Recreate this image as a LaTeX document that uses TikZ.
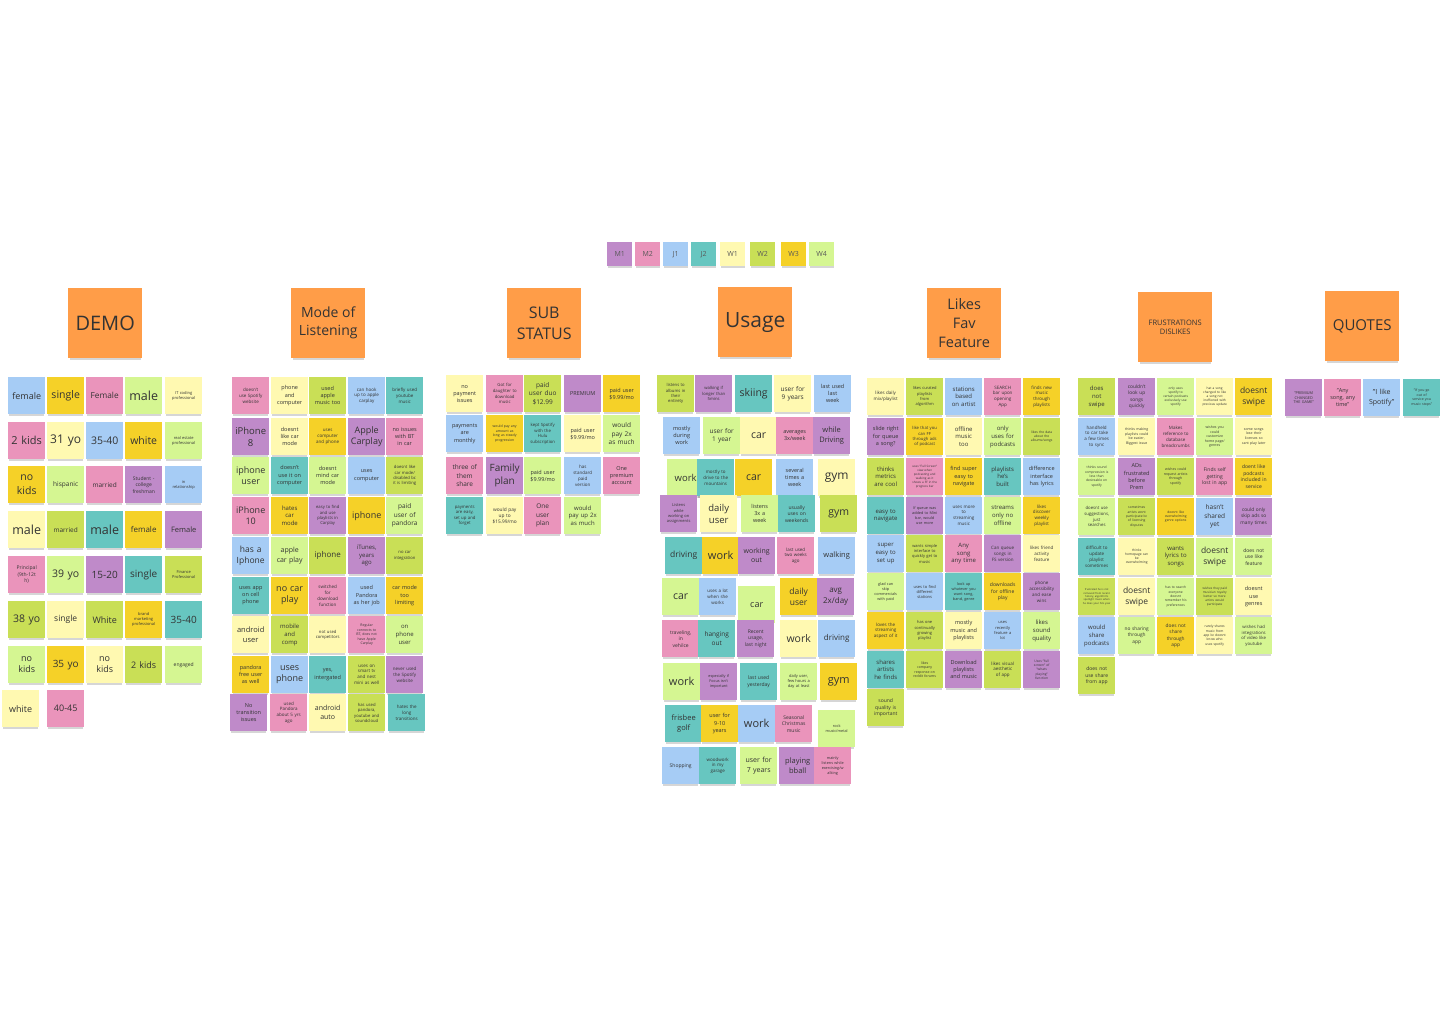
\documentclass[tikz,border=0pt]{standalone}
\usepackage{fontspec}
\setmainfont{Open Sans}
\usetikzlibrary{shadows}
\definecolor{lb}{HTML}{A6CCF5}
\definecolor{yl}{HTML}{F5D128}
\definecolor{pk}{HTML}{EA94BB}
\definecolor{lg}{HTML}{D5F692}
\definecolor{ly}{HTML}{FFF9B1}
\definecolor{gr}{HTML}{C9DF56}
\definecolor{tl}{HTML}{67C6C0}
\definecolor{vi}{HTML}{BF8AC9}
\definecolor{orn}{HTML}{FF9D48}
\definecolor{txt}{HTML}{333333}
\newcommand\fz[1]{\fontsize{#1}{\the\dimexpr #1pt*13/10\relax}\selectfont}
\newcommand\sn[6]{\node[note,fill=#4,font=\fz{#5}] (#1) at (#2,#3) {#6};}
\tikzset{
  note/.style={rectangle,anchor=north west,minimum width=37pt,minimum height=37pt,
    text width=36pt,inner sep=0.5pt,align=center,text=txt,
    drop shadow={shadow xshift=0pt,shadow yshift=-2.5pt,shadow scale=0.96,opacity=0.16,fill=black}},
  hdr/.style={rectangle,anchor=north west,minimum width=74pt,minimum height=70pt,
    inner sep=1pt,align=center,text=txt,fill=orn,
    drop shadow={shadow xshift=0pt,shadow yshift=-3pt,shadow scale=0.96,opacity=0.16,fill=black}},
  legbox/.style={rectangle,anchor=north west,minimum width=25pt,minimum height=24pt,
    inner sep=0pt,text=black!65,font=\fz{7},
    drop shadow={shadow xshift=0pt,shadow yshift=-2pt,shadow scale=0.95,opacity=0.16,fill=black}}
}
\begin{document}
\begin{tikzpicture}[x=1pt,y=-1pt]
\fill[white] (0,0) rectangle (1440,1024);
\useasboundingbox (0,0) rectangle (1440,1024);
% legend
\node[legbox,fill=vi] (leg1) at (607,242) {M1};
\node[legbox,fill=pk] (leg2) at (635,242) {M2};
\node[legbox,fill=lb] (leg3) at (663,242) {J1};
\node[legbox,fill=tl] (leg4) at (691,242) {J2};
\node[legbox,fill=ly] (leg5) at (720,242) {W1};
\node[legbox,fill=gr] (leg6) at (750,242) {W2};
\node[legbox,fill=yl] (leg7) at (781,242) {W3};
\node[legbox,fill=lg] (leg8) at (809,242) {W4};
% headers
\node[hdr,font=\fz{20}] (hdemo) at (68,288) {DEMO};
\node[hdr,font=\fz{14}] (hmode) at (291,288) {Mode of\\Listening};
\node[hdr,font=\fz{16}] (hsub) at (507,288) {SUB\\STATUS};
\node[hdr,font=\fz{21}] (husage) at (718,287) {Usage};
\node[hdr,font=\fz{14.5}] (hlikes) at (927,288) {Likes\\Fav\\Feature};
\node[hdr,font=\fz{7.5}] (hfrust) at (1138,292) {FRUSTRATIONS\\DISLIKES};
\node[hdr,font=\fz{15}] (hquotes) at (1325,291) {QUOTES};
% DEMO
\sn{d11}{8}{377}{lb}{9}{female}
\sn{d12}{47}{377}{yl}{10.5}{single}
\sn{d13}{86}{377}{pk}{8.3}{Female}
\sn{d14}{125}{377}{lg}{12.5}{male}
\sn{d15}{165}{377}{ly}{4}{IT coding\\professional}
\sn{d21}{8}{422}{pk}{11}{2 kids}
\sn{d22}{47}{422}{ly}{12}{31 yo}
\sn{d23}{86}{422}{lb}{10.5}{35-40}
\sn{d24}{125}{422}{yl}{10.5}{white}
\sn{d25}{165}{422}{lg}{4}{real estate\\professional}
\sn{d31}{8}{466}{yl}{10.5}{no\\kids}
\sn{d32}{47}{466}{lg}{6.5}{hispanic}
\sn{d33}{86}{466}{pk}{6.5}{married}
\sn{d34}{125}{466}{vi}{5}{Student -\\college\\freshman}
\sn{d35}{165}{466}{lb}{4}{in\\relationship}
\sn{d41}{8}{511}{ly}{12.5}{male}
\sn{d42}{47}{511}{gr}{6.5}{married}
\sn{d43}{86}{511}{tl}{12.5}{male}
\sn{d44}{125}{511}{yl}{8}{female}
\sn{d45}{165}{511}{vi}{7.5}{Female}
\sn{d51}{8}{556}{pk}{5}{Principal\\(9th-12t\\h)}
\sn{d52}{47}{556}{lg}{10.5}{39 yo}
\sn{d53}{86}{556}{vi}{10}{15-20}
\sn{d54}{125}{556}{tl}{10}{single}
\sn{d55}{165}{556}{gr}{4}{Finance\\Professional}
\sn{d61}{8}{601}{gr}{10.5}{38 yo}
\sn{d62}{47}{601}{ly}{8.5}{single}
\sn{d63}{86}{601}{gr}{9}{White}
\sn{d64}{125}{601}{yl}{4}{brand\\marketing\\professional}
\sn{d65}{165}{601}{tl}{10}{35-40}
\sn{d71}{8}{646}{lg}{9}{no\\kids}
\sn{d72}{47}{646}{yl}{10}{35 yo}
\sn{d73}{86}{646}{ly}{9}{no\\kids}
\sn{d74}{125}{646}{gr}{9}{2 kids}
\sn{d75}{165}{646}{lg}{5}{engaged}
\sn{d81}{2}{690}{ly}{9}{white}
\sn{d82}{47}{690}{pk}{9}{40-45}
% MODE OF LISTENING
\sn{m11}{232}{377}{pk}{4.5}{doesn't\\use Spotify\\website}
\sn{m12}{271}{377}{ly}{5.5}{phone\\and\\computer}
\sn{m13}{309}{377}{gr}{5.5}{used\\apple\\music too}
\sn{m14}{348}{377}{lb}{4.5}{can hook\\up to apple\\carplay}
\sn{m15}{386}{377}{tl}{4.5}{briefly used\\youtube\\music}
\sn{m21}{232}{418}{vi}{9.5}{iPhone\\8}
\sn{m22}{271}{418}{ly}{5.5}{doesnt\\like car\\mode}
\sn{m23}{309}{418}{yl}{4.5}{uses\\computer\\and phone}
\sn{m24}{348}{418}{vi}{9}{Apple\\Carplay}
\sn{m25}{386}{418}{pk}{5.5}{no issues\\with BT\\in car}
\sn{m31}{232}{457}{lg}{9}{iphone\\user}
\sn{m32}{271}{457}{tl}{5.5}{doesn't\\use it on\\computer}
\sn{m33}{309}{457}{lg}{5.5}{doesnt\\mind car\\mode}
\sn{m34}{348}{457}{lb}{5.5}{uses\\computer}
\sn{m35}{386}{457}{gr}{4.2}{doesnt like\\car mode/\\disabled bc\\it is limiting}
\sn{m41}{232}{497}{pk}{9}{iPhone\\10}
\sn{m42}{271}{497}{yl}{6}{hates\\car\\mode}
\sn{m43}{309}{497}{vi}{4.2}{easy to find\\and use\\playlists in\\Carplay}
\sn{m44}{348}{497}{yl}{9}{iphone}
\sn{m45}{386}{497}{lg}{6.5}{paid\\user of\\pandora}
\sn{m51}{232}{537}{lb}{8.5}{has a\\Iphone}
\sn{m52}{271}{537}{lg}{7}{apple\\car play}
\sn{m53}{309}{537}{gr}{8}{iphone}
\sn{m54}{348}{537}{vi}{6}{iTunes,\\years\\ago}
\sn{m55}{386}{537}{gr}{4.2}{no car\\integration}
\sn{m61}{232}{577}{tl}{5.5}{uses app\\on cell\\phone}
\sn{m62}{271}{577}{yl}{9}{no car\\play}
\sn{m63}{309}{577}{pk}{4.5}{switched\\for\\download\\function}
\sn{m64}{348}{577}{lb}{5.5}{used\\Pandora\\as her job}
\sn{m65}{386}{577}{yl}{5.5}{car mode\\too\\limiting}
\sn{m71}{232}{616}{ly}{7.5}{android\\user}
\sn{m72}{271}{616}{gr}{6}{mobile\\and\\comp}
\sn{m73}{309}{616}{ly}{4.2}{not used\\competitors}
\sn{m74}{348}{616}{pk}{3.5}{Regular\\connects to\\BT, does not\\have Apple\\Carplay}
\sn{m75}{386}{616}{lg}{6}{on\\phone\\user}
\sn{m81}{232}{656}{yl}{5.5}{pandora\\free user\\as well}
\sn{m82}{271}{656}{lb}{9}{uses\\phone}
\sn{m83}{309}{656}{tl}{5.5}{yes,\\intergated}
\sn{m84}{348}{656}{gr}{4.5}{uses on\\smart tv\\and nest\\mini as well}
\sn{m85}{386}{656}{vi}{4.5}{never used\\the Spotify\\website}
\sn{m91}{230}{694}{vi}{5.5}{No\\transition\\issues}
\sn{m92}{270}{694}{pk}{4.5}{used\\Pandora\\about 5 yrs\\ago}
\sn{m93}{309}{694}{ly}{7}{android\\auto}
\sn{m94}{348}{694}{gr}{4.2}{has used\\pandora,\\youtube and\\soundcloud}
\sn{m95}{388}{694}{tl}{4.5}{hates the\\long\\transitions}
% SUB STATUS
\sn{s11}{446}{375}{ly}{5.5}{no\\payment\\issues}
\sn{s12}{486}{375}{pk}{4.3}{Got for\\daughter to\\download\\music}
\sn{s13}{524}{375}{gr}{6.5}{paid\\user duo\\\$12.99}
\sn{s14}{564}{375}{vi}{5.5}{PREMIUM}
\sn{s15}{603}{375}{yl}{5.5}{paid user\\\$9.99/mo}
\sn{s21}{446}{415}{lb}{5.5}{payments\\are\\monthly}
\sn{s22}{486}{415}{yl}{3.5}{would pay any\\amount as\\long as steady\\progression}
\sn{s23}{524}{415}{tl}{4.3}{kept Spotify\\with the\\Hulu\\subscription}
\sn{s24}{564}{415}{ly}{5.5}{paid user\\\$9.99/mo}
\sn{s25}{603}{415}{lg}{6.5}{would\\pay 2x\\as much}
\sn{s31}{446}{457}{pk}{6.5}{three of\\them\\share}
\sn{s32}{486}{457}{vi}{10}{Family\\plan}
\sn{s33}{524}{457}{lg}{5.5}{paid user\\\$9.99/mo}
\sn{s34}{564}{457}{lb}{4.5}{has\\standard\\paid\\version}
\sn{s35}{603}{457}{pk}{5.5}{One\\premium\\account}
\sn{s41}{446}{497}{tl}{4.3}{payments\\are easy,\\set up and\\forget}
\sn{s42}{486}{497}{ly}{4.8}{would pay\\up to\\\$15.99/mo}
\sn{s43}{524}{497}{pk}{6.5}{One\\user\\plan}
\sn{s44}{564}{497}{lg}{6}{would\\pay up 2x\\as much}
% USAGE
\sn{u11}{657}{375}{gr}{4.2}{listens to\\albums in\\their\\entirety}
\sn{u12}{695}{375}{vi}{4.2}{walking if\\longer than\\5mins}
\sn{u13}{735}{375}{tl}{10.5}{skiing}
\sn{u14}{774}{375}{ly}{6.5}{user for\\9 years}
\sn{u15}{814}{375}{lb}{5.5}{last used\\last\\week}
\sn{u21}{663}{417}{lb}{5.5}{mostly\\during\\work}
\sn{u22}{703}{417}{lg}{6.5}{user for\\1 year}
\sn{u23}{740}{417}{ly}{10.5}{car}
\sn{u24}{776}{417}{pk}{5.5}{averages\\3x/week}
\sn{u25}{813}{417}{vi}{7.5}{while\\Driving}
\sn{u31}{667}{459}{lg}{9.5}{work}
\sn{u32}{697}{459}{tl}{4.5}{mostly to\\drive to the\\mountains}
\sn{u33}{735}{459}{yl}{10.5}{car}
\sn{u34}{776}{459}{lb}{5.5}{several\\times a\\week}
\sn{u35}{818}{459}{ly}{12}{gym}
\sn{u41}{660}{495}{vi}{4}{Listens\\while\\working on\\assignments}
\sn{u42}{700}{495}{ly}{9.5}{daily\\user}
\sn{u43}{741}{495}{lg}{5.5}{listens\\3x a\\week}
\sn{u44}{778}{495}{tl}{5}{usually\\uses on\\weekends}
\sn{u45}{820}{495}{gr}{10.5}{gym}
\sn{u51}{665}{537}{tl}{8.5}{driving}
\sn{u52}{702}{537}{yl}{11}{work}
\sn{u53}{738}{537}{vi}{7}{working\\out}
\sn{u54}{777}{537}{pk}{4.5}{last used\\two weeks\\ago}
\sn{u55}{818}{537}{lb}{7.5}{walking}
\sn{u61}{662}{578}{lg}{10.5}{car}
\sn{u62}{699}{578}{lb}{4.5}{uses a lot\\when she\\works}
\sn{u63}{738}{586}{lg}{9}{car}
\sn{u64}{780}{578}{yl}{8.5}{daily\\user}
\sn{u65}{817}{578}{vi}{8}{avg\\2x/day}
\sn{u71}{662}{620}{pk}{5}{traveling,\\in\\vehilce}
\sn{u72}{698}{620}{tl}{6.5}{hanging\\out}
\sn{u73}{737}{620}{vi}{5}{Recent\\usage,\\last night}
\sn{u74}{780}{620}{ly}{10.5}{work}
\sn{u75}{818}{620}{lb}{8}{driving}
\sn{u81}{663}{663}{lg}{11}{work}
\sn{u82}{700}{663}{vi}{3.8}{especially if\\Focus isn't\\important}
\sn{u83}{740}{663}{tl}{5}{last used\\yesterday}
\sn{u84}{780}{663}{lg}{4}{daily user,\\few hours a\\day at least}
\sn{u85}{820}{663}{yl}{11}{gym}
\sn{u91}{665}{705}{tl}{7.5}{frisbee\\golf}
\sn{u92}{701}{705}{yl}{5.5}{user for\\9-10\\years}
\sn{u93}{738}{705}{lb}{11}{work}
\sn{u94}{775}{705}{pk}{5}{Seasonal\\Christmas\\music}
\sn{u95}{818}{710}{lg}{3.8}{rock\\music/metal}
\sn{ua1}{662}{747}{lb}{5}{Shopping}
\sn{ua2}{699}{747}{tl}{4.5}{woodwork\\in my\\garage}
\sn{ua3}{740}{747}{lg}{7}{user for\\7 years}
\sn{ua4}{779}{747}{vi}{7.5}{playing\\bball}
\sn{ua5}{814}{747}{pk}{3.8}{mainly\\listens while\\exercising/w\\alking}
% LIKES
\sn{l11}{867}{378}{ly}{4.5}{likes daily\\mix/playlist}
\sn{l12}{906}{378}{gr}{4}{likes curated\\playlists\\from\\algorithm}
\sn{l13}{945}{378}{lb}{6}{stations\\based\\on artist}
\sn{l14}{984}{378}{pk}{4.5}{SEARCH\\bar upon\\opening\\App}
\sn{l15}{1023}{378}{yl}{4.5}{finds new\\music\\through\\playlists}
\sn{l21}{867}{418}{vi}{5.5}{slide right\\for queue\\a song?}
\sn{l22}{906}{418}{yl}{4.2}{like that you\\can FF\\through ads\\of podcast}
\sn{l23}{945}{418}{ly}{6}{offline\\music\\too}
\sn{l24}{984}{418}{lg}{6}{only\\uses for\\podcasts}
\sn{l25}{1023}{418}{gr}{3.3}{likes the data\\about the\\albums/songs}
\sn{l31}{867}{458}{gr}{6}{thinks\\metrics\\are cool}
\sn{l32}{906}{458}{pk}{3}{uses "Full Screen"\\view when\\podcasting and\\walking as it\\shows a FF in the\\progress bar}
\sn{l33}{945}{458}{yl}{5.5}{find super\\easy to\\navigate}
\sn{l34}{984}{458}{tl}{6}{playlists\\he's\\built}
\sn{l35}{1023}{458}{lb}{5.5}{difference\\interface\\has lyrics}
\sn{l41}{867}{497}{tl}{6}{easy to\\navigate}
\sn{l42}{906}{497}{vi}{3.8}{If queue was\\added to Mini\\bar, would\\use more}
\sn{l43}{945}{497}{lb}{4.5}{uses more\\to\\streaming\\music}
\sn{l44}{984}{497}{lg}{6}{streams\\only no\\offline}
\sn{l45}{1023}{497}{yl}{4.5}{likes\\discover\\weekly\\playlist}
\sn{l51}{867}{535}{lb}{6}{super\\easy to\\set up}
\sn{l52}{906}{535}{gr}{4}{wants simple\\interface to\\quickly get to\\music}
\sn{l53}{945}{535}{pk}{6}{Any\\song\\any time}
\sn{l54}{984}{535}{vi}{4.5}{Can queue\\songs in\\FS version}
\sn{l55}{1023}{535}{ly}{4.5}{likes friend\\activity\\feature}
\sn{l61}{867}{573}{lg}{3.8}{glad can\\skip\\commercials\\with paid}
\sn{l62}{906}{573}{lb}{4}{uses to find\\different\\stations}
\sn{l63}{945}{573}{tl}{3.8}{look up\\whatever you\\want song,\\band, genre}
\sn{l64}{984}{573}{yl}{5}{downloads\\for offline\\play}
\sn{l65}{1023}{573}{vi}{4.5}{phone\\accessibility\\and ease\\wins}
\sn{l71}{867}{612}{yl}{4.5}{loves the\\streaming\\aspect of it}
\sn{l72}{906}{612}{gr}{4}{has one\\continually\\growing\\playlist}
\sn{l73}{945}{612}{ly}{5.5}{mostly\\music and\\playlists}
\sn{l74}{984}{612}{lb}{4}{uses\\recently\\feature a\\lot}
\sn{l75}{1023}{612}{lg}{6}{likes\\sound\\quality}
\sn{l81}{867}{651}{tl}{6}{shares\\artists\\he finds}
\sn{l82}{906}{651}{gr}{3.5}{likes\\company\\response on\\reddit forums}
\sn{l83}{945}{651}{vi}{5.5}{Download\\playlists\\and music}
\sn{l84}{984}{651}{gr}{4.5}{likes visual\\aesthetic\\of app}
\sn{l85}{1023}{651}{vi}{3.3}{Uses "full\\screen" of\\"whats\\playing"\\function}
\sn{l91}{867}{689}{gr}{5}{sound\\quality is\\important}
% FRUSTRATIONS
\sn{f11}{1078}{378}{gr}{6}{does\\not\\swipe}
\sn{f12}{1118}{378}{vi}{4.8}{couldn't\\look up\\songs\\quickly}
\sn{f13}{1157}{378}{lg}{3.2}{only uses\\spotify to\\certain podcasts\\exclusively use\\spotify}
\sn{f14}{1196}{378}{ly}{3.2}{hat a song\\changed to like\\a song not\\ineffected with\\previous update}
\sn{f15}{1235}{378}{yl}{8.5}{doesnt\\swipe}
\sn{f21}{1078}{418}{lb}{4.5}{handheld\\to car take\\a few times\\to sync}
\sn{f22}{1118}{418}{ly}{3.5}{thinks making\\playlists could\\be easier,\\Biggest issue}
\sn{f23}{1157}{418}{pk}{4.5}{Makes\\reference to\\database\\breadcrumbs}
\sn{f24}{1196}{418}{lg}{3.5}{wishes you\\could\\customize\\home page/\\genres}
\sn{f25}{1235}{418}{ly}{3.5}{some songs\\lose their\\licenses so\\cant play later}
\sn{f31}{1078}{458}{lg}{3.3}{thinks sound\\compression is\\less than\\desireable on\\spotify}
\sn{f32}{1118}{458}{vi}{5.5}{ADs\\frustrated\\before\\Prem}
\sn{f33}{1157}{458}{gr}{3.5}{wishes could\\request artists\\through\\spotify}
\sn{f34}{1196}{458}{pk}{5}{Finds self\\getting\\lost in app}
\sn{f35}{1235}{458}{yl}{5}{doent like\\podcasts\\included in\\service}
\sn{f41}{1078}{498}{lg}{4.3}{doesnt use\\suggestions,\\just\\searches}
\sn{f42}{1118}{498}{gr}{3.3}{sometimes\\artists wont\\participate bc\\of licensing\\disputes}
\sn{f43}{1157}{498}{yl}{3.3}{doesnt like\\overwhelming\\genre options}
\sn{f44}{1196}{498}{lb}{6.5}{hasn't\\shared\\yet}
\sn{f45}{1235}{498}{vi}{4.8}{could only\\skip ads so\\many times}
\sn{f51}{1078}{538}{tl}{4.5}{difficult to\\update\\playlist\\sometimes}
\sn{f52}{1118}{538}{ly}{3.3}{thinks\\homepage can\\be\\overwhelming}
\sn{f53}{1157}{538}{gr}{6}{wants\\lyrics to\\songs}
\sn{f54}{1196}{538}{lg}{8.5}{doesnt\\swipe}
\sn{f55}{1235}{538}{lg}{5}{does not\\use like\\feature}
\sn{f61}{1078}{578}{gr}{2.6}{frustrated he is not\\removed from recent\\history, algorithm's\\spotlight music when\\he does your hits year}
\sn{f62}{1118}{578}{ly}{8.5}{doesnt\\swipe}
\sn{f63}{1157}{578}{lg}{3.3}{has to search\\everyone\\doesnt\\remember his\\preferences}
\sn{f64}{1196}{578}{gr}{3.1}{wishes they paid\\musician royalty\\better so more\\artists would\\participate}
\sn{f65}{1235}{578}{ly}{5.5}{doesnt\\use\\genres}
\sn{f71}{1078}{617}{lb}{6}{would\\share\\podcasts}
\sn{f72}{1118}{617}{lg}{4.8}{no sharing\\through\\app}
\sn{f73}{1157}{617}{yl}{4.8}{does not\\share\\through\\app}
\sn{f74}{1196}{617}{ly}{3.3}{rarely shares\\music from\\app bc doesnt\\know who\\uses spotify}
\sn{f75}{1235}{617}{lg}{4.3}{wishes had\\integrations\\of video like\\youtube}
\sn{f81}{1078}{657}{gr}{5}{does not\\use share\\from app}
% QUOTES
\sn{q1}{1285}{379}{vi}{3.8}{"PREMIUM\\CHANGED\\THE GAME"}
\sn{q2}{1324}{379}{pk}{5.5}{"Any\\song, any\\time"}
\sn{q3}{1363}{379}{lb}{7}{"I like\\Spotify"}
\sn{q4}{1403}{379}{tl}{3.5}{"If you go\\out of\\service you\\music stops"}
\end{tikzpicture}
\end{document}
